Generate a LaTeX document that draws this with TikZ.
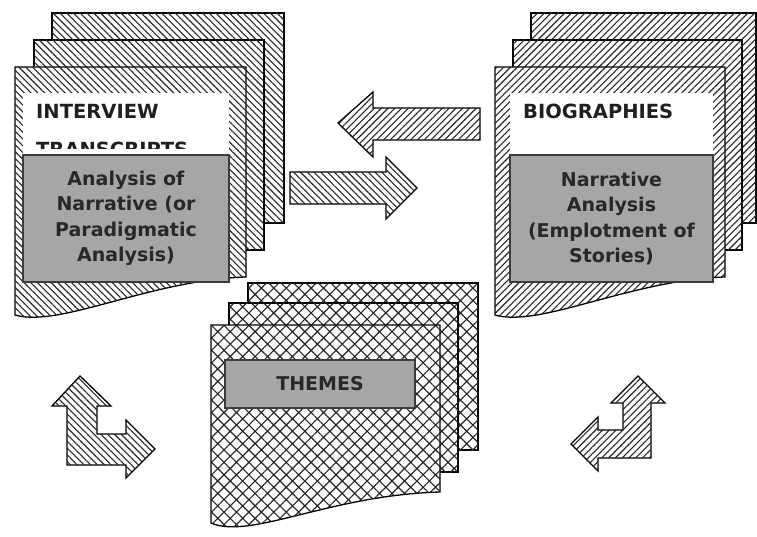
\documentclass[tikz,border=0pt]{standalone}
\usepackage{fontspec}
\newfontfamily\labfont{DejaVu Sans}
\usetikzlibrary{patterns.meta}
\definecolor{boxgrey}{RGB}{166,166,166}
\definecolor{boxedge}{RGB}{60,60,60}
\definecolor{txtdark}{RGB}{40,40,40}
\tikzset{
  hatchNE/.style={draw=black, line width=1.3pt, fill=white,
    postaction={pattern={Lines[angle=45,distance=4.8pt,line width=1.1pt]}, pattern color=black!85}},
  hatchNW/.style={draw=black, line width=1.3pt, fill=white,
    postaction={pattern={Lines[angle=-45,distance=4.8pt,line width=1.1pt]}, pattern color=black!85}},
  hatchX/.style={draw=black, line width=1.3pt, fill=white,
    postaction={pattern={Hatch[angle=45,distance=8.8pt,line width=1.15pt]}, pattern color=black!85}},
  whitebox/.style={fill=white, draw=none, inner sep=0pt},
  greybox/.style={fill=boxgrey, draw=boxedge, line width=1.1pt, inner sep=0pt,
    align=center, text=txtdark, font=\labfont\bfseries\fontsize{19}{25.5}\selectfont},
  headtxt/.style={anchor=base west, inner sep=0pt, text=black!88,
    font=\labfont\bfseries\fontsize{19.5}{22}\selectfont}
}
\begin{document}
\begin{tikzpicture}[x=1pt,y=-1pt]
\useasboundingbox (0,0) rectangle (757,537);
% ---------- left stack (interview transcripts) ----------
\draw[hatchNW] (52,13) rectangle (284,223);
\draw[hatchNW] (34,40) rectangle (264,250);
\draw[hatchNW] (15,67) -- (246,67) -- (246,277)
   .. controls (150,280) and (60,328) .. (15,315) -- cycle;
\node[whitebox, minimum width=206pt, minimum height=62pt] (wleft) at (126,124) {};
\node[headtxt] (interview) at (36,119) {INTERVIEW};
\begin{scope}
  \clip (23,93) rectangle (229,148.5);
  \node[headtxt] (transcripts) at (36,156.5) {TRANSCRIPTS};
\end{scope}
\node[greybox, minimum width=206pt, minimum height=127pt] (anarr) at (126,218.5)
  {Analysis of\\Narrative (or\\Paradigmatic\\Analysis)};
% ---------- right stack (biographies) ----------
\draw[hatchNE] (531,13) rectangle (756,223);
\draw[hatchNE] (513,40) rectangle (742,250);
\draw[hatchNE] (495,67) -- (725,67) -- (725,277)
   .. controls (630,280) and (540,328) .. (495,315) -- cycle;
\node[whitebox, minimum width=203pt, minimum height=62pt] (wright) at (611.5,124) {};
\node[headtxt] (bio) at (523,119) {BIOGRAPHIES};
\node[greybox, minimum width=203pt, minimum height=127pt] (narran) at (611.5,218.5)
  {Narrative\\Analysis\\(Emplotment of\\Stories)};
% ---------- themes stack ----------
\draw[hatchX] (248,283) rectangle (478,450);
\draw[hatchX] (229,303) rectangle (458,472);
\draw[hatchX] (211,325) -- (440,325) -- (440,492)
   .. controls (330,495) and (250,540) .. (211,523) -- cycle;
\node[greybox, minimum width=190pt, minimum height=48pt] (themes) at (320,384) {THEMES};
% ---------- middle arrows ----------
\draw[hatchNE] (480,108) -- (373,108) -- (373,92) -- (338,123) -- (373,157)
   -- (373,140) -- (480,140) -- cycle;
\draw[hatchNW] (290,172) -- (386,172) -- (386,157) -- (417,188) -- (386,219)
   -- (386,204) -- (290,204) -- cycle;
% ---------- bent arrows ----------
\draw[hatchNW] (80,376) -- (111,406) -- (97,406) -- (97,434) -- (126,434) -- (126,420)
   -- (155,449) -- (126,478) -- (126,465) -- (67,465) -- (67,406) -- (52,406) -- cycle;
\draw[hatchNE] (638,376) -- (665,403) -- (651,403) -- (651,458) -- (598,458) -- (598,471)
   -- (571,444) -- (598,417) -- (598,430) -- (623,430) -- (623,403) -- (611,403) -- cycle;
\end{tikzpicture}
\end{document}
